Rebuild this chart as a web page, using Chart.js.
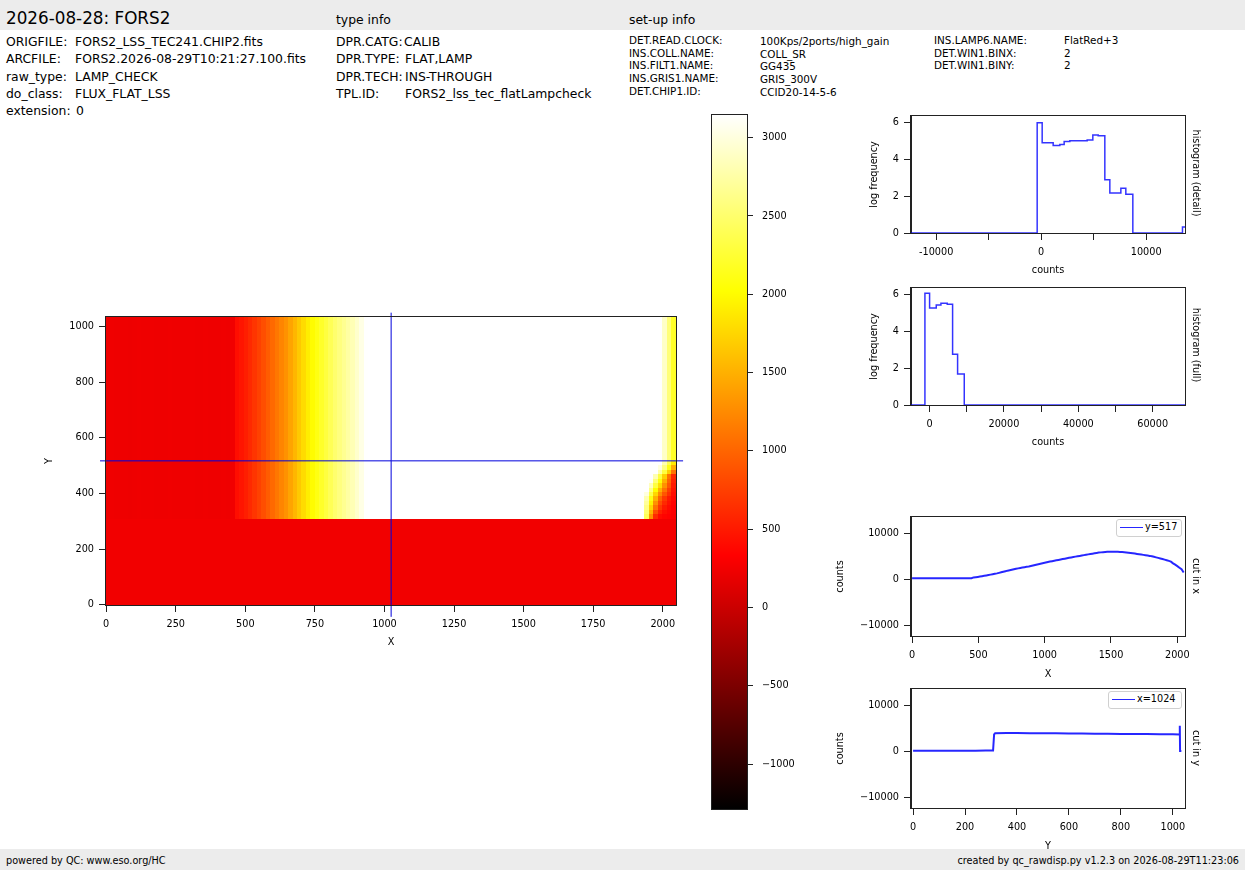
<!DOCTYPE html>
<html>
<head>
<meta charset="utf-8">
<script src="https://cdn.jsdelivr.net/npm/chart.js@4.4.1/dist/chart.umd.min.js"></script>
<style>
body { margin:0; width:1245px; height:870px; position:relative; background:#fff; font-family:'DejaVu Sans', sans-serif; color:#000; overflow:hidden; }
.band { position:absolute; left:0; width:1245px; background:#ececec; }
.t { position:absolute; white-space:pre; line-height:1.15; transform:translateY(-50%); }
.s { font-size:10.4px; }
.m { font-size:12.4px; }
.v { position:absolute; writing-mode:vertical-rl; white-space:pre; font-size:9.7px; line-height:1.15; transform:translate(-50%,-50%); }
.box { position:absolute; }
.leg { position:absolute; background:#fff; border:1px solid #d0d0d0; border-radius:3px; box-sizing:border-box; font-size:9.7px; }
.leg .ln { position:absolute; top:7px; height:0; border-top:1.5px solid rgba(0,0,255,0.85); }
.leg .lt { position:absolute; top:1px; line-height:1.15; white-space:pre; }
</style>
</head>
<body>
<div class="band" style="top:0;height:30px"></div>
<div class="band" style="top:849px;height:21px"></div>

<div class="t" style="left:6px;top:19px;font-size:16.8px">2026-08-28: FORS2</div>
<div class="t m" style="left:336px;top:20px">type info</div>
<div class="t m" style="left:629px;top:20px">set-up info</div>

<div class="t m" style="left:6px;top:42px">ORIGFILE:</div>
<div class="t m" style="left:75px;top:42px">FORS2_LSS_TEC241.CHIP2.fits</div>
<div class="t m" style="left:6px;top:59px">ARCFILE:</div>
<div class="t m" style="left:75px;top:59px">FORS2.2026-08-29T10:21:27.100.fits</div>
<div class="t m" style="left:6px;top:77px">raw_type:</div>
<div class="t m" style="left:75px;top:77px">LAMP_CHECK</div>
<div class="t m" style="left:6px;top:94px">do_class:</div>
<div class="t m" style="left:75px;top:94px">FLUX_FLAT_LSS</div>
<div class="t m" style="left:6px;top:111px">extension:</div>
<div class="t m" style="left:76px;top:111px">0</div>

<div class="t m" style="left:336px;top:42px">DPR.CATG:</div>
<div class="t m" style="left:404px;top:42px">CALIB</div>
<div class="t m" style="left:336px;top:59px">DPR.TYPE:</div>
<div class="t m" style="left:405px;top:59px">FLAT,LAMP</div>
<div class="t m" style="left:336px;top:77px">DPR.TECH:</div>
<div class="t m" style="left:405px;top:77px">INS-THROUGH</div>
<div class="t m" style="left:336px;top:94px">TPL.ID:</div>
<div class="t m" style="left:405px;top:94px">FORS2_lss_tec_flatLampcheck</div>

<div class="t s" style="left:629px;top:41px">DET.READ.CLOCK:</div>
<div class="t s" style="left:760px;top:42px">100Kps/2ports/high_gain</div>
<div class="t s" style="left:629px;top:54px">INS.COLL.NAME:</div>
<div class="t s" style="left:760px;top:55px">COLL_SR</div>
<div class="t s" style="left:629px;top:66px">INS.FILT1.NAME:</div>
<div class="t s" style="left:760px;top:67px">GG435</div>
<div class="t s" style="left:629px;top:79px">INS.GRIS1.NAME:</div>
<div class="t s" style="left:760px;top:80px">GRIS_300V</div>
<div class="t s" style="left:629px;top:92px">DET.CHIP1.ID:</div>
<div class="t s" style="left:760px;top:93px">CCID20-14-5-6</div>
<div class="t s" style="left:934px;top:41px">INS.LAMP6.NAME:</div>
<div class="t s" style="left:1064px;top:41px">FlatRed+3</div>
<div class="t s" style="left:934px;top:54px">DET.WIN1.BINX:</div>
<div class="t s" style="left:1064px;top:54px">2</div>
<div class="t s" style="left:934px;top:66px">DET.WIN1.BINY:</div>
<div class="t s" style="left:1064px;top:66px">2</div>

<div class="t" style="left:6px;top:861px;font-size:9.7px">powered by QC: www.eso.org/HC</div>
<div class="t" style="right:6px;top:861px;font-size:9.7px">created by qc_rawdisp.py v1.2.3 on 2026-08-29T11:23:06</div>

<div class="box" style="left:30px;top:300px"><canvas id="img" width="670" height="360"></canvas></div>
<div class="box" style="left:700px;top:100px"><canvas id="cbar" width="120" height="730"></canvas></div>
<div class="box" style="left:860px;top:105px"><canvas id="hdet" width="385" height="180"></canvas></div>
<div class="box" style="left:860px;top:277px"><canvas id="hfull" width="385" height="180"></canvas></div>
<div class="box" style="left:830px;top:505px"><canvas id="cutx" width="415" height="185"></canvas></div>
<div class="box" style="left:830px;top:677px"><canvas id="cuty" width="415" height="185"></canvas></div>

<div class="v" style="left:1196px;top:173px">histogram (detail)</div>
<div class="v" style="left:1196px;top:345px">histogram (full)</div>
<div class="v" style="left:1196px;top:576px">cut in x</div>
<div class="v" style="left:1196px;top:748px">cut in y</div>

<div class="leg" style="left:1116px;top:519px;width:66px;height:18px"><span class="ln" style="left:3px;width:23px"></span><span class="lt" style="left:28px">y=517</span></div>
<div class="leg" style="left:1108px;top:691px;width:74px;height:18px"><span class="ln" style="left:3px;width:23px"></span><span class="lt" style="left:28px">x=1024</span></div>

<script>
// colour scale limits (hot colormap)
const vMin = -1287;
const vMax = 3146;

// cut along x at y=517, one value every 16 columns (0..2048)
const cutXPos = Array.from({ length: 129 }, (_, i) => i * 16);
const cutXCounts = [
    230, 235, 228, 232, 230, 226, 233, 237, 231, 229, 234, 230, 227, 232, 236, 231,
    228, 233, 230, 234, 229, 231, 235, 230, 227, 232, 234, 229, 240, 420, 470, 530,
    600, 680, 760, 850, 940, 1030, 1120, 1210, 1300, 1420, 1540, 1660, 1780, 1900, 2000, 2100,
    2200, 2300, 2400, 2500, 2580, 2660, 2740, 2820, 2920, 3030, 3140, 3250, 3360, 3470, 3580, 3690,
    3800, 3890, 3980, 4070, 4160, 4250, 4340, 4430, 4520, 4610, 4700, 4800, 4880, 4970, 5050, 5130,
    5220, 5300, 5380, 5460, 5540, 5620, 5700, 5780, 5850, 5900, 5950, 5990, 6020, 6040, 6050, 6050,
    6040, 6020, 6000, 5970, 5950, 5890, 5830, 5770, 5700, 5630, 5560, 5490, 5420, 5350, 5280, 5200,
    5130, 5040, 4930, 4810, 4690, 4570, 4450, 4320, 4180, 4030, 3870, 3500, 3200, 2900, 2550, 2200,
    1500
];

// cut along y at x=1024
const cutYPos = [0, 40, 80, 120, 160, 200, 240, 280, 308, 312, 316, 360, 400, 450, 500, 550, 600,
    650, 700, 750, 800, 850, 900, 950, 1000, 1026, 1027, 1028, 1033];
const cutYCounts = [110, 120, 130, 140, 140, 150, 150, 160, 170, 3700, 3950, 4020, 4000, 3980, 3950, 3930, 3900,
    3880, 3860, 3840, 3820, 3800, 3780, 3750, 3720, 3680, 5600, 100, 100];

// raw image: lower band is flat, upper band follows the x profile,
// bottom-right corner of the upper band is read separately
const imgSplitY = 311;
const imgLowerCounts = 250;
const cornerColStart = 120;
const cornerRowY = [311, 327, 343, 359, 375, 391, 407, 423, 439, 455, 471, 487, 503, 519];
const cornerCounts = [
    [3200, 2400, 1300, 600, 400, 350, 330, 300],
    [3300, 2500, 1550, 850, 550, 420, 360, 310],
    [3400, 2600, 1750, 1100, 700, 500, 400, 330],
    [3500, 2700, 1950, 1300, 850, 600, 450, 350],
    [3600, 2800, 2100, 1500, 1000, 700, 500, 380],
    [3750, 3000, 2350, 1750, 1250, 900, 650, 420],
    [3850, 3200, 2600, 2000, 1500, 1100, 750, 460],
    [3950, 3400, 2850, 2300, 1800, 1300, 900, 500],
    [4050, 3550, 3100, 2550, 2050, 1500, 1000, 550],
    [4150, 3700, 3300, 2800, 2300, 1700, 1100, 600],
    [4180, 3850, 3550, 3150, 2750, 2300, 1700, 1100],
    [4180, 3950, 3700, 3350, 3000, 2600, 2100, 1500],
    [4180, 4000, 3800, 3450, 3150, 2800, 2350, 1900]
];
const crossX = 1024;
const crossY = 517;

// histograms (bin left edges, log frequency)
const histDetailX = [-12400, -381, 95, 1143, 1778, 2190, 2730, 4380, 4920, 5430, 6063, 6540, 7590, 8063, 8730, 13460, 13700];
const histDetailY = [0, 6.00, 4.91, 4.75, 4.81, 4.98, 5.02, 5.05, 5.33, 5.28, 2.90, 2.17, 2.43, 2.10, 0, 0.32, 0.32];
const histFullX = [-5000, -1256, 0, 1794, 3050, 4753, 6188, 7533, 9327, 68700];
const histFullY = [0, 6.07, 5.27, 5.43, 5.53, 5.48, 2.76, 1.69, 0, 0];

// ticks
const imgXTicks = [0, 250, 500, 750, 1000, 1250, 1500, 1750, 2000];
const imgYTicks = [0, 200, 400, 600, 800, 1000];
const cbarTicks = [-1000, -500, 0, 500, 1000, 1500, 2000, 2500, 3000];
const cbarLabels = ['\u22121000', '\u2212500', '0', '500', '1000', '1500', '2000', '2500', '3000'];
const histYTicks = [0, 2, 4, 6];
const histDetailTicks = [-10000, -5000, 0, 5000, 10000];
const histDetailLabels = ['-10000', '', '0', '', '10000'];
const histFullTicks = [0, 10000, 20000, 30000, 40000, 50000, 60000];
const histFullLabels = ['0', '', '20000', '', '40000', '', '60000'];
const cutCountTicks = [-10000, 0, 10000];
const cutCountLabels = ['\u221210000', '0', '10000'];
const cutXTicks = [0, 500, 1000, 1500, 2000];
const cutYTicks = [0, 200, 400, 600, 800, 1000];

Chart.defaults.font.family = "'DejaVu Sans', sans-serif";
Chart.defaults.font.size = 9.7;
Chart.defaults.color = '#000';

function hot(v) {
    const t = Math.min(1, Math.max(0, (v - vMin) / (vMax - vMin)));
    const c = u => Math.round(255 * Math.min(1, Math.max(0, u)));
    return `rgb(${c(t / 0.365079)},${c((t - 0.365079) / 0.380953)},${c((t - 0.746032) / 0.253968)})`;
}

function axis(pos, min, max, ticks, labels, size, title, titlePad, tickLen, tickPad) {
    const vertical = pos === 'left' || pos === 'right';
    return {
        type: 'linear',
        position: pos,
        min: min,
        max: max,
        afterBuildTicks: s => { s.ticks = ticks.map(v => ({ value: v })); },
        afterFit: s => { if (vertical) s.width = size; else s.height = size; },
        ticks: {
            autoSkip: false,
            maxRotation: 0,
            padding: tickPad !== undefined ? tickPad : (vertical ? 5 : 7),
            color: '#000',
            callback: (v, i) => labels ? labels[i] : String(v)
        },
        grid: { drawOnChartArea: false, drawTicks: true, tickLength: tickLen || 7, color: '#222' },
        border: { display: true, color: '#222' },
        title: {
            display: !!title,
            text: title,
            color: '#000',
            padding: vertical ? { top: titlePad, bottom: 0 } : { top: 0, bottom: titlePad }
        }
    };
}

const framePlugin = {
    id: 'frame',
    afterDraw(chart) {
        const { ctx, chartArea: a } = chart;
        ctx.save();
        ctx.strokeStyle = '#222';
        ctx.lineWidth = 1;
        ctx.strokeRect(Math.round(a.left) - 0.5, Math.round(a.top) - 0.5,
            Math.round(a.right) - Math.round(a.left) + 1, Math.round(a.bottom) - Math.round(a.top) + 1);
        ctx.restore();
    }
};

const heatmapPlugin = {
    id: 'heatmap',
    beforeDatasetsDraw(chart) {
        const { ctx, chartArea: a, scales: { x, y } } = chart;
        ctx.save();
        ctx.beginPath();
        ctx.rect(a.left, a.top, a.width, a.height);
        ctx.clip();
        const cell = (x0, x1, y0, y1, v) => {
            const px0 = Math.floor(x.getPixelForValue(x0));
            const px1 = Math.ceil(x.getPixelForValue(x1));
            const py0 = Math.ceil(y.getPixelForValue(y0));
            const py1 = Math.floor(y.getPixelForValue(y1));
            ctx.fillStyle = hot(v);
            ctx.fillRect(px0, py1, px1 - px0, py0 - py1);
        };
        for (let i = 0; i < cutXPos.length - 1; i++) {
            const x0 = cutXPos[i] - 0.5;
            const x1 = cutXPos[i + 1] - 0.5;
            cell(x0, x1, -0.5, imgSplitY, imgLowerCounts);
            let top = imgSplitY;
            const c = i - cornerColStart;
            if (c >= 0) {
                cornerCounts.forEach((row, r) => cell(x0, x1, cornerRowY[r], cornerRowY[r + 1], row[c]));
                top = cornerRowY[cornerRowY.length - 1];
            }
            cell(x0, x1, top, 1033.5, cutXCounts[i]);
        }
        ctx.restore();
    }
};

const colorbarPlugin = {
    id: 'colorbar',
    beforeDatasetsDraw(chart) {
        const { ctx, chartArea: a, scales: { y } } = chart;
        const g = ctx.createLinearGradient(0, y.getPixelForValue(vMin), 0, y.getPixelForValue(vMax));
        [0, 0.365079, 0.746032, 1].forEach(s => g.addColorStop(s, hot(vMin + s * (vMax - vMin))));
        ctx.save();
        ctx.fillStyle = g;
        ctx.fillRect(a.left, a.top, a.width, a.height);
        ctx.restore();
    }
};

const baseOptions = (padding, scales) => ({
    responsive: false,
    animation: false,
    layout: { padding: padding },
    plugins: { legend: { display: false }, tooltip: { enabled: false } },
    scales: scales
});

const zip = (xs, ys) => xs.map((x, i) => ({ x: x, y: ys[i] }));

// image panel
new Chart(document.getElementById('img'), {
    type: 'scatter',
    data: {
        datasets: [
            { data: [{ x: crossX, y: -43 }, { x: crossX, y: 1049 }], showLine: true, borderColor: '#0000dd', borderWidth: 1, pointRadius: 0, clip: false },
            { data: [{ x: -22, y: crossY }, { x: 2073, y: crossY }], showLine: true, borderColor: '#0000dd', borderWidth: 1, pointRadius: 0, clip: false }
        ]
    },
    options: baseOptions({ left: 0, top: 17, right: 24, bottom: 0 }, {
        x: axis('bottom', -0.5, 2047.5, imgXTicks, null, 55, 'X', 12),
        y: axis('left', -0.5, 1033.5, imgYTicks, null, 76, 'Y', 14)
    }),
    plugins: [heatmapPlugin, framePlugin]
});

// colour bar
new Chart(document.getElementById('cbar'), {
    type: 'scatter',
    data: { datasets: [] },
    options: baseOptions({ left: 12, top: 13, right: 0, bottom: 21 }, {
        x: { type: 'linear', display: false, min: 0, max: 1 },
        y: axis('right', vMin, vMax, cbarTicks, cbarLabels, 73, '', 0, 6, 9)
    }),
    plugins: [colorbarPlugin, framePlugin]
});

function stepChart(id, xs, ys, xmin, xmax, xticks, xlabels) {
    new Chart(document.getElementById(id), {
        type: 'scatter',
        data: {
            datasets: [{
                data: zip(xs, ys), showLine: true, stepped: 'before',
                borderColor: 'rgba(0,0,255,0.8)', borderWidth: 1.5, pointRadius: 0
            }]
        },
        options: baseOptions({ left: 0, top: 8, right: 60, bottom: 0 }, {
            x: axis('bottom', xmin, xmax, xticks, xlabels, 52, 'counts', 9),
            y: axis('left', 0, 6.37, histYTicks, null, 51, 'log frequency', 9)
        }),
        plugins: [framePlugin]
    });
}
stepChart('hdet', histDetailX, histDetailY, -12400, 13700, histDetailTicks, histDetailLabels);
stepChart('hfull', histFullX, histFullY, -5000, 68700, histFullTicks, histFullLabels);

function cutChart(id, xs, ys, xmax, xticks, xtitle) {
    new Chart(document.getElementById(id), {
        type: 'scatter',
        data: {
            datasets: [{
                data: zip(xs, ys), showLine: true,
                borderColor: 'rgba(0,0,255,0.85)', borderWidth: 2, pointRadius: 0
            }]
        },
        options: baseOptions({ left: 0, top: 12, right: 60, bottom: 0 }, {
            x: axis('bottom', -8, xmax, xticks, null, 54, xtitle, 10),
            y: axis('left', -12400, 13640, cutCountTicks, cutCountLabels, 81, 'counts', 5)
        }),
        plugins: [framePlugin]
    });
}
cutChart('cutx', cutXPos, cutXCounts, 2058, cutXTicks, 'X');
cutChart('cuty', cutYPos, cutYCounts, 1047, cutYTicks, 'Y');
</script>
</body>
</html>
